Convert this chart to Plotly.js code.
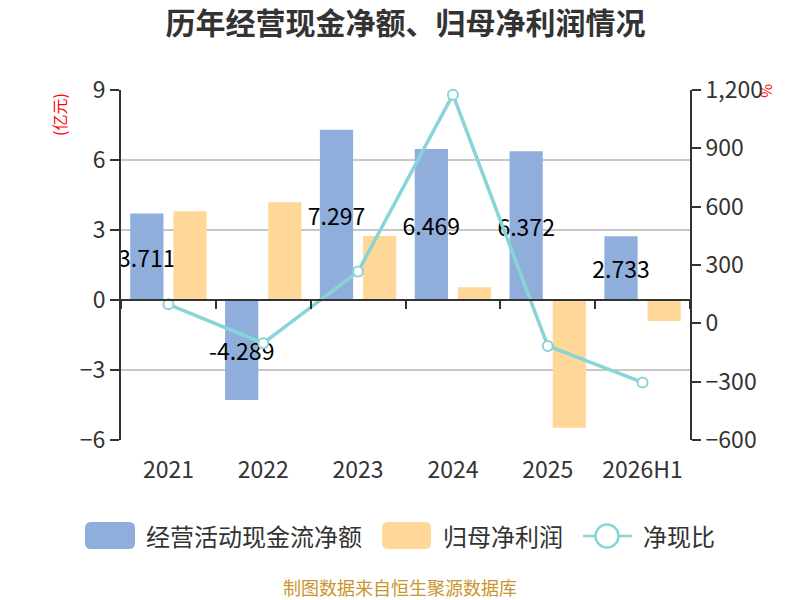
<!DOCTYPE html>
<html>
<head>
<meta charset="utf-8">
<script src="https://cdn.plot.ly/plotly-3.0.1.min.js"></script>
<style>
  html, body { margin: 0; padding: 0; background: #fff; }
  #chart { width: 800px; height: 600px; }
</style>
</head>
<body>
<div id="chart"></div>
<script>
// categories and series
var years = ['2021', '2022', '2023', '2024', '2025', '2026H1'];
var cashFlow = [3.711, -4.289, 7.297, 6.469, 6.372, 2.733];   // 经营活动现金流净额 (亿元)
var netProfit = [3.80, 4.19, 2.74, 0.55, -5.47, -0.90];       // 归母净利润 (亿元)
var cashRatio = [97.7, -102.4, 266.3, 1176, -116.5, -303.7];   // 净现比 (%)

var FONT = '"Noto Sans CJK SC", "Noto Sans", sans-serif';
var BLUE = '#8FAEDB';
var ORANGE = '#FFD899';
var TEAL = '#88D4D7';

// plot area in pixels, used to place the hand drawn legend
var plotL = 121, plotR = 690, plotT = 90, plotB = 440;
function px(x) { return (x - plotL) / (plotR - plotL); }
function py(y) { return (plotB - y) / (plotB - plotT); }

function roundRect(x0, y0, x1, y1, r) {
    var rx = r / (plotR - plotL), ry = r / (plotB - plotT);
    var a = px(x0), b = px(x1), c = py(y0), d = py(y1);
    return 'M' + (a + rx) + ',' + c +
        ' L' + (b - rx) + ',' + c + ' Q' + b + ',' + c + ' ' + b + ',' + (c - ry) +
        ' L' + b + ',' + (d + ry) + ' Q' + b + ',' + d + ' ' + (b - rx) + ',' + d +
        ' L' + (a + rx) + ',' + d + ' Q' + a + ',' + d + ' ' + a + ',' + (d + ry) +
        ' L' + a + ',' + (c - ry) + ' Q' + a + ',' + c + ' ' + (a + rx) + ',' + c + ' Z';
}

var traceCash = {
    x: years,
    y: cashFlow,
    type: 'bar',
    name: '经营活动现金流净额',
    marker: { color: BLUE },
    text: cashFlow.map(function (v) { return v.toFixed(3); }),
    textposition: 'inside',
    insidetextanchor: 'middle',
    textangle: 0,
    constraintext: 'none',
    textfont: { family: FONT, size: 23, color: '#000' },
    hoverinfo: 'none'
};

var traceProfit = {
    x: years,
    y: netProfit,
    type: 'bar',
    name: '归母净利润',
    marker: { color: ORANGE },
    textposition: 'none',
    hoverinfo: 'none'
};

var traceRatio = {
    x: years,
    y: cashRatio,
    xaxis: 'x2',
    yaxis: 'y2',
    type: 'scatter',
    mode: 'lines+markers',
    name: '净现比',
    line: { color: TEAL, width: 3.5 },
    marker: { size: 10, color: '#fff', line: { color: TEAL, width: 2 } },
    cliponaxis: false,
    hoverinfo: 'none'
};

var shapes = [
    { type: 'path', xref: 'paper', yref: 'paper', path: roundRect(85, 522, 135, 549, 6),
      fillcolor: BLUE, line: { width: 0 } },
    { type: 'path', xref: 'paper', yref: 'paper', path: roundRect(382, 522, 431, 549, 6),
      fillcolor: ORANGE, line: { width: 0 } },
    { type: 'line', xref: 'paper', yref: 'paper', x0: px(583), x1: px(632), y0: py(536), y1: py(536),
      line: { color: TEAL, width: 2.5 } },
    { type: 'circle', xref: 'paper', yref: 'paper', x0: px(595.5), x1: px(618.5), y0: py(524.5), y1: py(547.5),
      fillcolor: '#fff', line: { color: TEAL, width: 2.5 } }
];

var annotations = [
    { text: '经营活动现金流净额', x: px(144), y: py(535), xanchor: 'left', yanchor: 'middle' },
    { text: '归母净利润', x: px(441), y: py(535), xanchor: 'left', yanchor: 'middle' },
    { text: '净现比', x: px(641), y: py(535), xanchor: 'left', yanchor: 'middle' }
].map(function (a) {
    a.xref = 'paper'; a.yref = 'paper'; a.showarrow = false;
    a.font = { family: FONT, size: 24, color: '#333' };
    return a;
});

annotations.push(
    { text: '(亿元)', xref: 'paper', yref: 'paper', x: px(59), y: py(115), showarrow: false,
      textangle: -90, xanchor: 'center', yanchor: 'middle',
      font: { family: FONT, size: 16, color: '#ff0000' } },
    { text: '%', xref: 'paper', yref: 'paper', x: px(768), y: py(91), showarrow: false,
      textangle: 90, xanchor: 'center', yanchor: 'middle',
      font: { family: FONT, size: 15, color: '#ff0000' } },
    { text: '制图数据来自恒生聚源数据库', xref: 'paper', yref: 'paper', x: px(400), y: py(587),
      showarrow: false, xanchor: 'center', yanchor: 'middle',
      font: { family: FONT, size: 18, color: '#C8952E' } }
);

var layout = {
    width: 800,
    height: 600,
    margin: { l: plotL, r: 800 - plotR, t: plotT, b: 600 - plotB },
    paper_bgcolor: '#fff',
    plot_bgcolor: '#fff',
    showlegend: false,
    barmode: 'group',
    bargap: 0.09,
    bargroupgap: 0.23,
    font: { family: FONT, color: '#333' },
    title: {
        text: '历年经营现金净额、归母净利润情况',
        x: 0.5, xref: 'paper', xanchor: 'center',
        y: 1 - 23 / 600, yref: 'container', yanchor: 'middle',
        font: { family: FONT, size: 30, color: '#333', weight: 'bold' }
    },
    xaxis: {
        type: 'category',
        range: [-0.5, 5.5],
        showline: false,
        showgrid: false,
        zeroline: false,
        ticks: 'outside',
        ticklen: 9,
        tickcolor: 'rgba(0,0,0,0)',
        tickfont: { family: FONT, size: 23, color: '#333' }
    },
    xaxis2: {
        type: 'category',
        overlaying: 'x',
        anchor: 'free',
        position: py(300),
        range: [-0.5, 5.5],
        showline: true,
        linecolor: '#333',
        linewidth: 2,
        showgrid: false,
        zeroline: false,
        showticklabels: false,
        tickson: 'boundaries',
        ticks: 'outside',
        ticklen: 8,
        tickwidth: 2,
        tickcolor: '#333'
    },
    yaxis: {
        range: [-6, 9],
        tick0: 0,
        dtick: 3,
        showline: true,
        linecolor: '#333',
        linewidth: 2,
        ticks: 'outside',
        ticklen: 9,
        tickwidth: 2,
        tickcolor: '#333',
        showgrid: true,
        gridcolor: '#c8c8c8',
        gridwidth: 1.5,
        zeroline: false,
        tickfont: { family: FONT, size: 23, color: '#333' }
    },
    yaxis2: {
        overlaying: 'y',
        side: 'right',
        range: [-600, 1200],
        tick0: 0,
        dtick: 300,
        tickformat: ',',
        showline: true,
        linecolor: '#333',
        linewidth: 2,
        ticks: 'outside',
        ticklen: 9,
        tickwidth: 2,
        tickcolor: '#333',
        showgrid: false,
        zeroline: false,
        tickfont: { family: FONT, size: 23, color: '#333' }
    },
    shapes: shapes,
    annotations: annotations
};

Plotly.newPlot('chart', [traceCash, traceProfit, traceRatio], layout, { staticPlot: true });
</script>
</body>
</html>
